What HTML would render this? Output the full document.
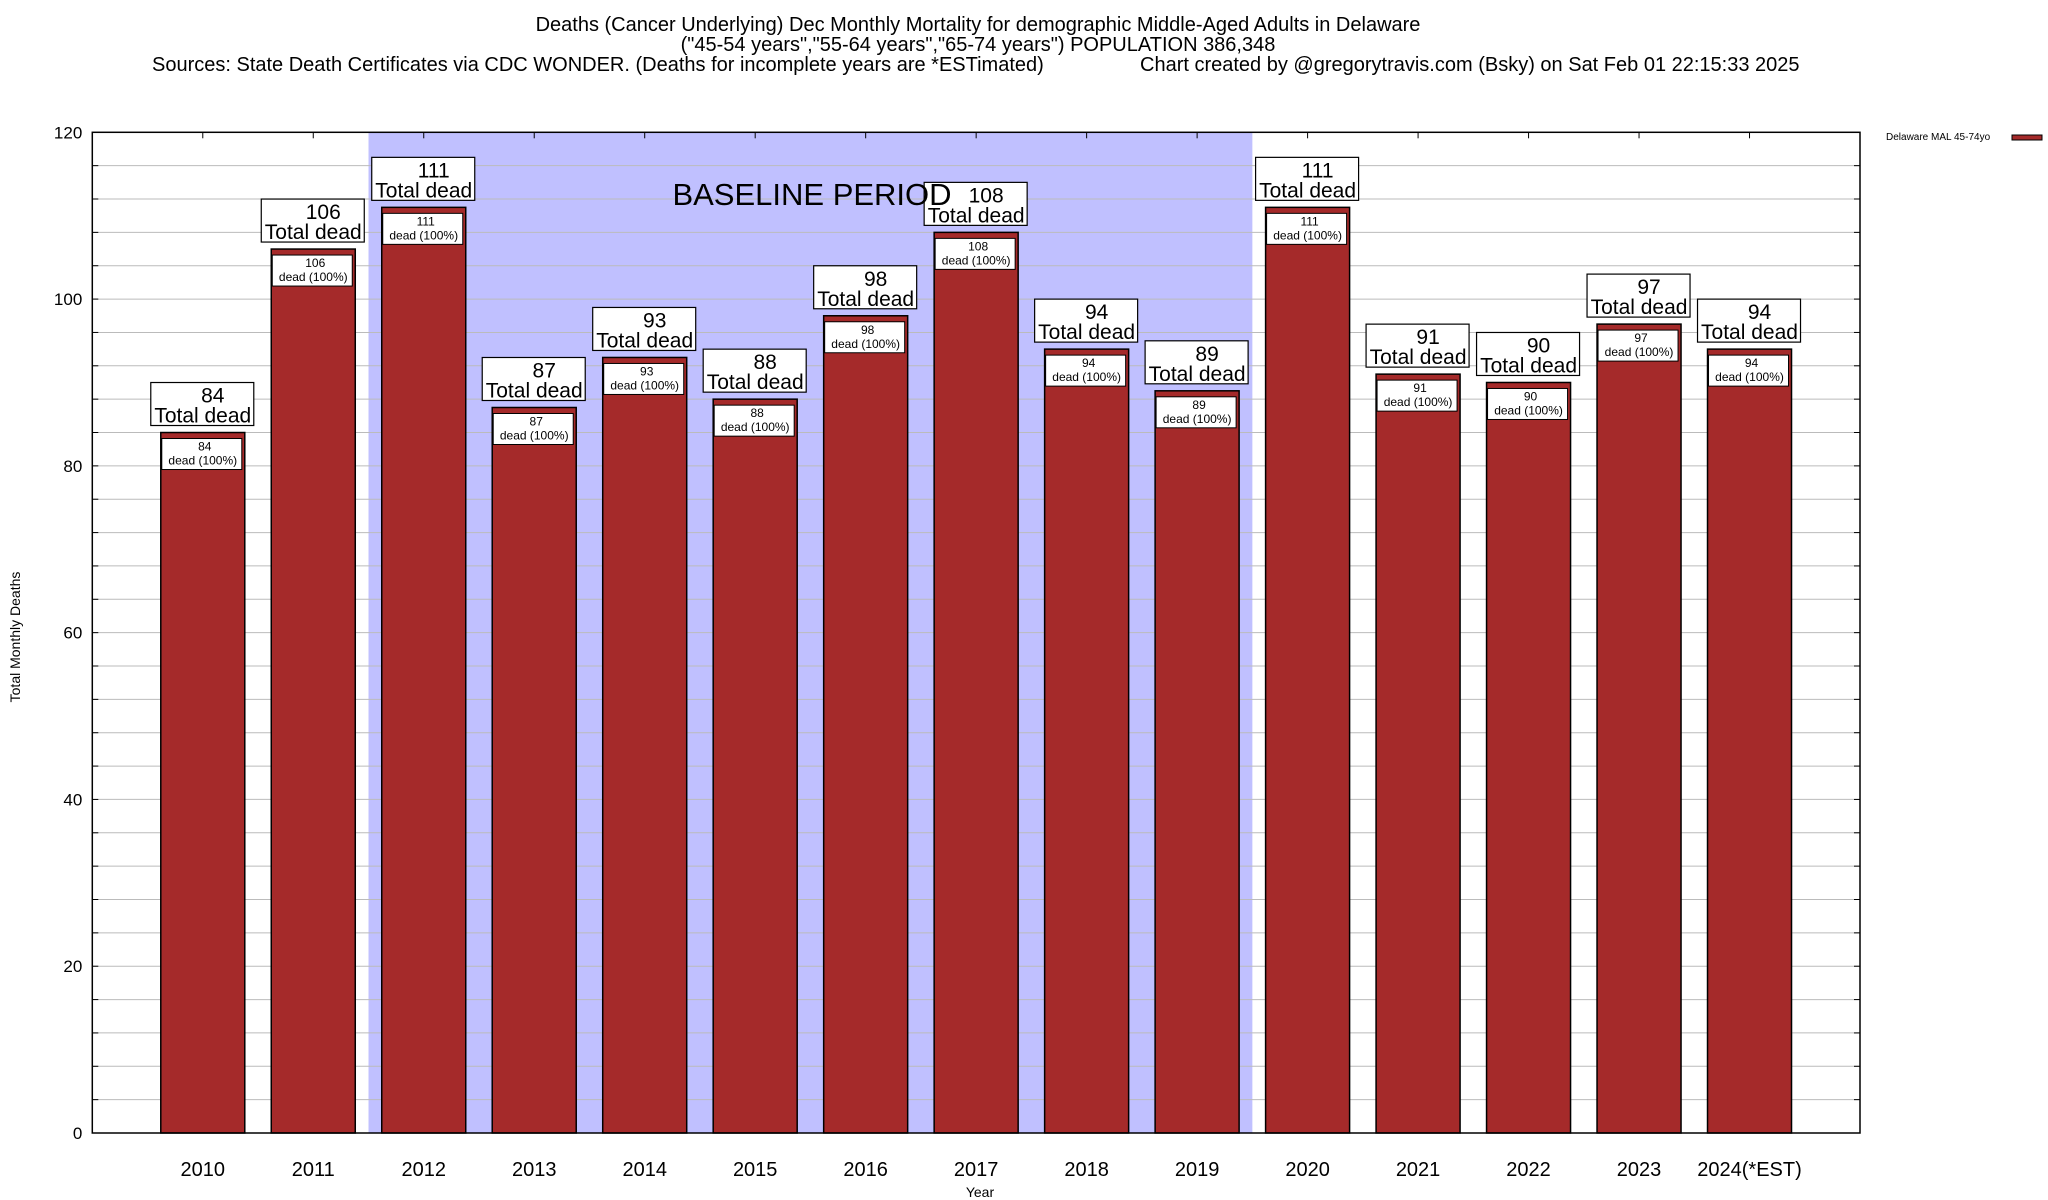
<!DOCTYPE html>
<html><head><meta charset="utf-8"><style>
body{margin:0;background:#fff;}
svg{display:block;font-family:"Liberation Sans",sans-serif;}
</style></head><body>
<svg id="c" width="2048" height="1200" viewBox="0 0 2048 1200">
<g font-size="20" fill="#000">
<text x="978" y="31" text-anchor="middle">Deaths (Cancer Underlying) Dec Monthly Mortality for demographic Middle-Aged Adults in Delaware</text>
<text x="978" y="51" text-anchor="middle">("45-54 years","55-64 years","65-74 years") POPULATION 386,348</text>
<text x="152" y="71">Sources: State Death Certificates via CDC WONDER. (Deaths for incomplete years are *ESTimated)</text>
<text x="1140" y="71">Chart created by @gregorytravis.com (Bsky) on Sat Feb 01 22:15:33 2025</text>
</g>
<text x="20" y="637" font-size="14" text-anchor="middle" transform="rotate(-90 20 637)">Total Monthly Deaths</text>
<text x="980" y="1197" font-size="14" text-anchor="middle">Year</text>
<g>
<text x="1886" y="140" font-size="10">Delaware MAL 45-74yo</text>
<rect x="2012" y="135" width="30" height="5" fill="#a52a2a" stroke="#000" stroke-width="1"/>
</g>
<g id="plot"></g>
</svg>
<script>
const categories=["2010","2011","2012","2013","2014","2015","2016","2017","2018","2019","2020","2021","2022","2023","2024(*EST)"];
const deaths=[84,106,111,87,93,88,98,108,94,89,111,91,90,97,94];
const yTicks=[0,20,40,60,80,100,120];
const baselineStart=2.5, baselineEnd=10.5;
const L=92.3,R=1860,T=132.3,B=1133,YMAX=120,XN=16;
const NS="http://www.w3.org/2000/svg";
const g=document.getElementById('plot');
function X(p){return L+(R-L)*p/XN;}
function Y(v){return B-(B-T)*v/YMAX;}
function el(t,a,parent){const e=document.createElementNS(NS,t);for(const k in a)e.setAttribute(k,a[k]);(parent||g).appendChild(e);return e;}
let band=el('rect',{x:X(baselineStart),y:T,width:X(baselineEnd)-X(baselineStart),height:B-T,fill:'#c0c0ff'});


for(let v=4;v<YMAX;v+=4){
 const ln=el('line',{x1:L,x2:R,y1:Y(v),y2:Y(v),stroke:'#bbb','stroke-width':1});
 
 
 el('line',{x1:L,x2:L+6,y1:Y(v),y2:Y(v),stroke:'#000','stroke-width':1});
 el('line',{x1:R-6,x2:R,y1:Y(v),y2:Y(v),stroke:'#000','stroke-width':1});
}
yTicks.forEach(v=>{
 const t=el('text',{x:L-10,y:Y(v)+6,'font-size':17,'text-anchor':'end'});t.textContent=v;
 
 
});
categories.forEach((c,i)=>{
 const cx=X(i+1),v=deaths[i],w=84;
 el('line',{x1:cx,x2:cx,y1:T,y2:T+6,stroke:'#000'});
 const r=el('rect',{x:cx-w/2,y:Y(v),width:w,height:B-Y(v),fill:'#a52a2a',stroke:'#000','stroke-width':1.5});
 
 
 const ib=el('rect',{x:cx-w/2+1,y:Y(v)+6,width:w-4,height:31,fill:'#fff',stroke:'#000','stroke-width':1});
 
 
 let t1=el('text',{x:cx+2,y:Y(v)+18,'font-size':12,'text-anchor':'middle'});t1.textContent=v;
 let t2=el('text',{x:cx,y:Y(v)+32,'font-size':12,'text-anchor':'middle'});t2.textContent='dead (100%)';
 const ob=el('rect',{x:cx-52,y:Y(v)-50,width:103,height:43,fill:'#fff',stroke:'#000','stroke-width':1.2});
 
 
 let t3=el('text',{x:cx+10,y:Y(v)-30,'font-size':21,'text-anchor':'middle'});t3.textContent=v;
 let t4=el('text',{x:cx,y:Y(v)-10,'font-size':21,'text-anchor':'middle'});t4.textContent='Total dead';
 const xl=el('text',{x:cx,y:1176,'font-size':20,'text-anchor':'middle'});xl.textContent=c;
 
 
});
let bt=el('text',{x:812,y:205,'font-size':31,'text-anchor':'middle'});bt.textContent='BASELINE PERIOD';


const fr=el('rect',{x:L,y:T,width:R-L,height:B-T,fill:'none',stroke:'#000','stroke-width':1.5});


</script>
</body></html>
